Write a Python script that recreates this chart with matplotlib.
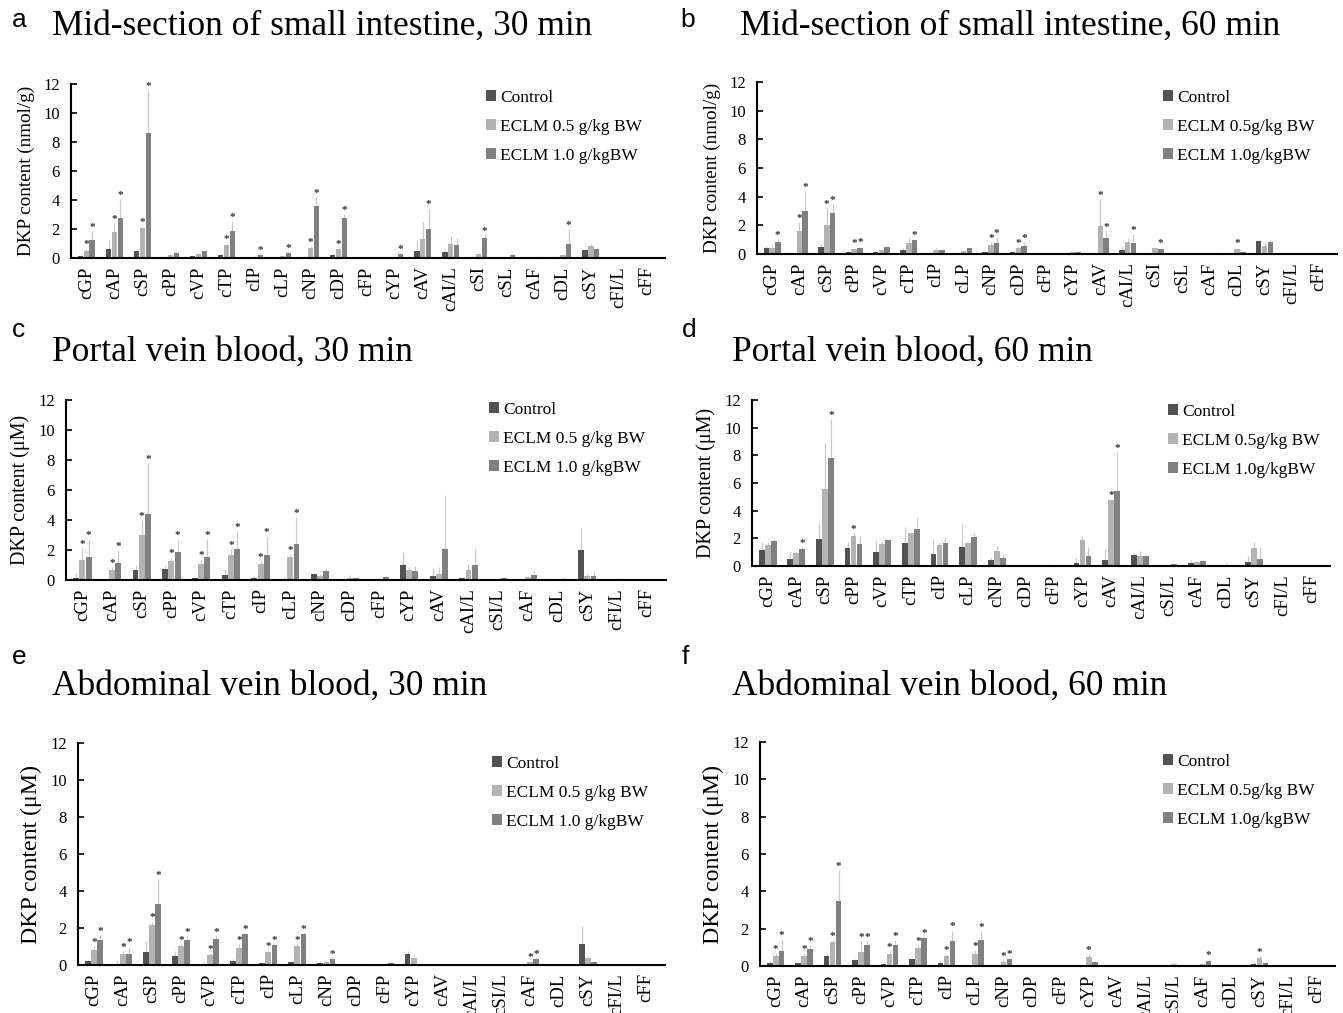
import matplotlib
matplotlib.use("Agg")
import matplotlib.pyplot as plt
import numpy as np

# ---------------- data ----------------
cats_ab = ["cGP", "cAP", "cSP", "cPP", "cVP", "cTP", "cIP", "cLP", "cNP", "cDP", "cFP",
           "cYP", "cAV", "cAI/L", "cSI", "cSL", "cAF", "cDL", "cSY", "cFI/L", "cFF"]
cats_cf = ["cGP", "cAP", "cSP", "cPP", "cVP", "cTP", "cIP", "cLP", "cNP", "cDP", "cFP",
           "cYP", "cAV", "cAI/L", "cSI/L", "cAF", "cDL", "cSY", "cFI/L", "cFF"]

# Panel a: Mid-section of small intestine, 30 min
a_ctrl = [0.15, 0.65, 0.45, 0.08, 0.12, 0.2, 0.05, 0.05, 0.1, 0.2, 0.02, 0.02, 0.5, 0.4, 0.08, 0.0, 0.03, 0.08, 0.55, 0, 0]
a_ctrl_err = [0.05, 0.6, 0.2, 0.03, 0.05, 0.1, 0.02, 0.02, 0.05, 0.1, 0.01, 0.01, 0.75, 0.2, 0.03, 0, 0.01, 0.05, 0.1, 0, 0]
a_e05 = [0.5, 1.8, 2.05, 0.22, 0.3, 0.9, 0.08, 0.12, 0.7, 0.6, 0.02, 0.08, 1.3, 0.95, 0.28, 0.03, 0.05, 0.22, 0.8, 0, 0]
a_e05_err = [0.15, 0.6, 0.15, 0.05, 0.05, 0.1, 0.03, 0.05, 0.1, 0.1, 0.01, 0.03, 1.2, 0.55, 0.05, 0.05, 0.02, 0.05, 0.2, 0, 0]
a_e10 = [1.25, 2.75, 8.6, 0.35, 0.45, 1.85, 0.18, 0.35, 3.6, 2.75, 0.06, 0.28, 2.0, 0.9, 1.4, 0.2, 0.1, 1.0, 0.65, 0, 0]
a_e10_err = [0.6, 1.3, 3.0, 0.05, 0.05, 0.7, 0.05, 0.05, 0.6, 0.3, 0.02, 0.05, 1.4, 0.45, 0.2, 0.05, 0.02, 1.0, 0.1, 0, 0]
a_sig05 = [1, 1, 1, 0, 0, 1, 0, 0, 1, 1, 0, 0, 0, 0, 0, 0, 0, 0, 0, 0, 0]
a_sig10 = [1, 1, 1, 0, 0, 1, 1, 1, 1, 1, 0, 1, 1, 0, 1, 0, 0, 1, 0, 0, 0]

# Panel b: Mid-section of small intestine, 60 min
b_ctrl = [0.4, 0, 0.5, 0.15, 0.12, 0.28, 0.08, 0, 0.12, 0.15, 0, 0.1, 0, 0.25, 0.1, 0, 0, 0.05, 0.9, 0, 0]
b_ctrl_err = [0.15, 0, 0.2, 0.05, 0.03, 0.15, 0.03, 0, 0.03, 0.05, 0, 0.02, 0, 0.3, 0.03, 0, 0, 0.02, 0.05, 0, 0]
b_e05 = [0.45, 1.6, 2.0, 0.35, 0.25, 0.75, 0.3, 0.2, 0.65, 0.4, 0.05, 0.12, 1.95, 0.85, 0.4, 0, 0.07, 0.35, 0.55, 0, 0]
b_e05_err = [0.2, 0.6, 1.2, 0.1, 0.05, 0.4, 0.1, 0.03, 0.2, 0.1, 0.01, 0.03, 1.9, 0.3, 0.05, 0, 0.02, 0.1, 0.3, 0, 0]
b_e10 = [0.85, 3.0, 2.85, 0.42, 0.5, 0.95, 0.28, 0.4, 0.8, 0.55, 0.05, 0.15, 1.1, 0.8, 0.35, 0.02, 0.1, 0.12, 0.85, 0, 0]
b_e10_err = [0.2, 1.4, 0.65, 0.1, 0.03, 0.1, 0.05, 0.03, 0.4, 0.3, 0.01, 0.03, 0.5, 0.6, 0.1, 0, 0.02, 0.05, 0.15, 0, 0]
b_sig05 = [0, 1, 1, 1, 0, 0, 0, 0, 1, 1, 0, 0, 1, 0, 0, 0, 0, 1, 0, 0, 0]
b_sig10 = [1, 1, 1, 1, 0, 1, 0, 0, 1, 1, 0, 0, 1, 1, 1, 0, 0, 0, 0, 0, 0]

# Panel c: Portal vein blood, 30 min
c_ctrl = [0.15, 0.02, 0.7, 0.75, 0.15, 0.35, 0.15, 0.1, 0.4, 0.02, 0.02, 1.0, 0.25, 0.15, 0, 0.02, 0.05, 2.0, 0.02, 0]
c_ctrl_err = [0.3, 0.02, 0.3, 0.2, 0.05, 0.4, 0.15, 0.1, 0.1, 0.02, 0.02, 0.9, 0.55, 0.05, 0, 0.02, 0.1, 1.45, 0.02, 0]
c_e05 = [1.35, 0.7, 3.0, 1.3, 1.1, 1.65, 1.1, 1.55, 0.3, 0.12, 0.08, 0.65, 0.4, 0.65, 0.05, 0.2, 0.05, 0.3, 0.1, 0]
c_e05_err = [0.8, 0.15, 1.0, 0.2, 0.3, 0.4, 0.15, 0.2, 0.1, 0.2, 0.05, 0.25, 0.5, 0.45, 0.03, 0.05, 0.05, 0.1, 0.05, 0]
c_e10 = [1.55, 1.15, 4.4, 1.9, 1.55, 2.05, 1.7, 2.4, 0.6, 0.12, 0.18, 0.6, 2.05, 1.0, 0.15, 0.35, 0.1, 0.3, 0.08, 0]
c_e10_err = [1.2, 0.85, 3.4, 0.8, 1.2, 1.2, 1.2, 1.8, 0.2, 0.05, 0.1, 0.35, 3.6, 1.05, 0.05, 0.3, 0.1, 0.3, 0.03, 0]
c_sig05 = [1, 1, 1, 1, 1, 1, 1, 1, 0, 0, 0, 0, 0, 0, 0, 0, 0, 0, 0, 0]
c_sig10 = [1, 1, 1, 1, 1, 1, 1, 1, 0, 0, 0, 0, 0, 0, 0, 0, 0, 0, 0, 0]

# Panel d: Portal vein blood, 60 min
d_ctrl = [1.15, 0.5, 1.95, 1.3, 1.0, 1.65, 0.9, 1.4, 0.4, 0.05, 0.1, 0.2, 0.45, 0.8, 0.02, 0.2, 0.05, 0.3, 0.02, 0]
d_ctrl_err = [0.6, 0.5, 1.2, 0.4, 0.8, 1.2, 1.05, 1.6, 0.15, 0.02, 0.03, 0.35, 0.8, 0.15, 0.01, 0.2, 0.02, 0.4, 0.01, 0]
d_e05 = [1.55, 0.95, 5.6, 2.2, 1.6, 2.35, 1.5, 1.65, 1.05, 0.05, 0.08, 1.9, 4.8, 0.7, 0.08, 0.3, 0.1, 1.3, 0.02, 0]
d_e05_err = [0.2, 0.05, 3.3, 0.15, 0.2, 0.05, 0.2, 0.1, 0.4, 0.02, 0.02, 0.3, 0.05, 0.35, 0.02, 0.03, 0.1, 0.4, 0.01, 0]
d_e10 = [1.8, 1.2, 7.8, 1.6, 1.85, 2.7, 1.65, 2.1, 0.55, 0.05, 0.05, 0.7, 5.45, 0.7, 0.12, 0.38, 0.08, 0.5, 0.05, 0]
d_e10_err = [0.15, 0.15, 2.8, 0.6, 0.05, 0.8, 0.4, 0.3, 0.25, 0.02, 0.02, 0.65, 2.8, 0.1, 0.03, 0.03, 0.02, 0.9, 0.01, 0]
d_sig05 = [0, 0, 0, 1, 0, 0, 0, 0, 0, 0, 0, 0, 1, 0, 0, 0, 0, 0, 0, 0]
d_sig10 = [0, 1, 1, 0, 0, 0, 0, 0, 0, 0, 0, 0, 1, 0, 0, 0, 0, 0, 0, 0]

# Panel e: Abdominal vein blood, 30 min
e_ctrl = [0.2, 0.08, 0.7, 0.5, 0.05, 0.2, 0.1, 0.15, 0.1, 0.02, 0.01, 0.6, 0, 0, 0.02, 0, 0.02, 1.15, 0.02, 0]
e_ctrl_err = [0.15, 0.2, 0.6, 0.25, 0.1, 0.15, 0.05, 0.05, 0.1, 0.02, 0.01, 0.15, 0, 0, 0.01, 0, 0.01, 0.95, 0.01, 0]
e_e05 = [0.8, 0.6, 2.15, 1.05, 0.55, 0.9, 0.7, 1.05, 0.15, 0.03, 0.08, 0.4, 0, 0, 0.02, 0.15, 0.05, 0.4, 0.03, 0]
e_e05_err = [0.25, 0.15, 0.2, 0.1, 0.1, 0.25, 0.1, 0.1, 0.1, 0.02, 0.02, 0.1, 0, 0, 0.01, 0.05, 0.02, 0.1, 0.01, 0]
e_e10 = [1.35, 0.6, 3.3, 1.35, 1.4, 1.65, 1.1, 1.7, 0.3, 0.05, 0.1, 0.08, 0, 0, 0.02, 0.3, 0.05, 0.15, 0.03, 0]
e_e10_err = [0.25, 0.4, 1.35, 0.2, 0.15, 0.1, 0.05, 0.05, 0.05, 0.05, 0.02, 0.02, 0, 0, 0.01, 0.1, 0.02, 0.05, 0.01, 0]
e_sig05 = [1, 1, 1, 1, 1, 1, 1, 1, 0, 0, 0, 0, 0, 0, 0, 1, 0, 0, 0, 0]
e_sig10 = [1, 1, 1, 1, 1, 1, 1, 1, 1, 0, 0, 0, 0, 0, 0, 1, 0, 0, 0, 0]

# Panel f: Abdominal vein blood, 60 min
f_ctrl = [0.15, 0.15, 0.55, 0.3, 0.1, 0.35, 0.15, 0.03, 0.05, 0.02, 0.01, 0.05, 0, 0, 0.02, 0.02, 0.02, 0.12, 0.02, 0]
f_ctrl_err = [0.1, 0.05, 0.15, 0.05, 0.03, 0.1, 0.15, 0.02, 0.03, 0.01, 0.01, 0.03, 0, 0, 0.01, 0.01, 0.01, 0.1, 0.01, 0]
f_e05 = [0.55, 0.55, 1.3, 0.75, 0.65, 0.95, 0.55, 0.65, 0.2, 0.03, 0.02, 0.5, 0, 0, 0.1, 0.1, 0.05, 0.45, 0.04, 0]
f_e05_err = [0.15, 0.15, 0.1, 0.6, 0.15, 0.15, 0.1, 0.2, 0.1, 0.01, 0.01, 0.15, 0, 0, 0.05, 0.03, 0.02, 0.1, 0.01, 0]
f_e10 = [0.8, 0.9, 3.5, 1.1, 1.15, 1.5, 1.35, 1.4, 0.35, 0.03, 0.02, 0.2, 0, 0, 0.08, 0.28, 0.05, 0.15, 0.02, 0]
f_e10_err = [0.65, 0.2, 1.65, 0.25, 0.25, 0.05, 0.55, 0.45, 0.1, 0.01, 0.01, 0.03, 0, 0, 0.02, 0.1, 0.02, 0.1, 0.01, 0]
f_sig05 = [1, 1, 1, 1, 1, 1, 1, 1, 1, 0, 0, 1, 0, 0, 0, 0, 0, 1, 0, 0]
f_sig10 = [1, 1, 1, 1, 1, 1, 1, 1, 1, 0, 0, 0, 0, 0, 0, 1, 0, 0, 0, 0]

titles = ["Mid-section of small intestine, 30 min", "Mid-section of small intestine, 60 min",
          "Portal vein blood, 30 min", "Portal vein blood, 60 min",
          "Abdominal vein blood, 30 min", "Abdominal vein blood, 60 min"]
letters = ["a", "b", "c", "d", "e", "f"]
ylabels = ["DKP content (nmol/g)", "DKP content (nmol/g)", "DKP content (\u03bcM)",
           "DKP content (\u03bcM)", "DKP content (\u03bcM)", "DKP content (\u03bcM)"]
legend_left = ["Control", "ECLM 0.5 g/kg BW", "ECLM 1.0 g/kgBW"]
legend_right = ["Control", "ECLM 0.5g/kg BW", "ECLM 1.0g/kgBW"]

# ---------------- style / layout ----------------
W, H = 1343, 1013
SERIF = ["Liberation Serif", "DejaVu Serif"]
SANS = ["Liberation Sans", "DejaVu Sans"]
plt.rcParams["font.family"] = SERIF
plt.rcParams["mathtext.fontset"] = "stix"

COL = ["#525252", "#b3b3b3", "#808080"]
ERRC = "#c8c8c8"

fig = plt.figure(figsize=(W / 100, H / 100), dpi=100)

def fx(px):
    return px / W

def fy(py):
    return 1 - py / H

# axes rectangles in pixels: x0, x1, ytop(12), ybot(0)
rects = [(71, 665, 84, 258), (757, 1337, 82, 254),
         (66, 666, 400, 580), (752, 1330, 400, 566),
         (78, 665, 743, 965), (760, 1335, 742, 966)]
# title/letter positions (pixels): letter x, letter y, title x, title y
title_pos = [(12, 20, 52, 26), (680, 20, 740, 26),
             (12, 330, 52, 352), (682, 330, 732, 352),
             (12, 657, 52, 686), (682, 657, 732, 686)]
# legend upper-left (pixels)
leg_pos = [(486, 90), (1163, 90), (489, 402), (1168, 404), (492, 756), (1163, 754)]
ylabel_size = [13.8, 13.8, 14.5, 14.5, 17.2, 17.2]

panels = [
    (cats_ab, a_ctrl, a_ctrl_err, a_e05, a_e05_err, a_e10, a_e10_err, a_sig05, a_sig10),
    (cats_ab, b_ctrl, b_ctrl_err, b_e05, b_e05_err, b_e10, b_e10_err, b_sig05, b_sig10),
    (cats_cf, c_ctrl, c_ctrl_err, c_e05, c_e05_err, c_e10, c_e10_err, c_sig05, c_sig10),
    (cats_cf, d_ctrl, d_ctrl_err, d_e05, d_e05_err, d_e10, d_e10_err, d_sig05, d_sig10),
    (cats_cf, e_ctrl, e_ctrl_err, e_e05, e_e05_err, e_e10, e_e10_err, e_sig05, e_sig10),
    (cats_cf, f_ctrl, f_ctrl_err, f_e05, f_e05_err, f_e10, f_e10_err, f_sig05, f_sig10),
]

bw = 0.2
offs = [-0.21, 0.0, 0.21]

for i, (cats, c, ce, m, me, h, he, s05, s10) in enumerate(panels):
    x0, x1, yt, yb = rects[i]
    ax = fig.add_axes([fx(x0), fy(yb), fx(x1) - fx(x0), (yb - yt) / H])
    x = np.arange(len(cats))
    series = [(c, ce, None), (m, me, s05), (h, he, s10)]
    leg = legend_left if i % 2 == 0 else legend_right
    handles = []
    for k, (vals, errs, sig) in enumerate(series):
        vals = np.asarray(vals, float)
        errs = np.asarray(errs, float)
        xs = x + offs[k]
        bars = ax.bar(xs, vals, width=bw, color=COL[k], edgecolor="none", zorder=2, label=leg[k])
        handles.append(bars)
        ax.vlines(xs, vals, vals + errs, colors=ERRC, lw=0.9, zorder=1)
        if sig is not None:
            for xx, v, e, s in zip(xs, vals, errs, sig):
                if s:
                    ax.text(xx, v + e - 0.05, "*", ha="center", va="bottom", fontsize=8,
                            color="#333333", fontweight="bold")
    ax.set_xlim(-0.55, len(cats) - 0.35)
    ax.set_ylim(0, 12)
    ax.set_yticks([0, 2, 4, 6, 8, 10, 12])
    ax.set_xticks(x)
    ax.set_xticklabels(cats, rotation=90, fontsize=13.5)
    ax.tick_params(axis="x", length=0, pad=6)
    ax.tick_params(axis="y", direction="in", length=4, width=1.2, labelsize=12, pad=8)
    for sp in ["top", "right"]:
        ax.spines[sp].set_visible(False)
    for sp in ["left", "bottom"]:
        ax.spines[sp].set_linewidth(1.5)
    ax.set_ylabel(ylabels[i], fontsize=ylabel_size[i], labelpad=6)

    lx, ly = leg_pos[i]
    ax.legend(handles=handles, loc="upper left", bbox_to_anchor=(fx(lx), fy(ly)),
              bbox_transform=fig.transFigure, frameon=False, fontsize=12.5,
              handlelength=0.6, handleheight=0.6, handletextpad=0.2,
              labelspacing=0.75, borderpad=0, borderaxespad=0)

    lxp, lyp, txp, typ = title_pos[i]
    fig.text(fx(lxp), fy(lyp), letters[i], family=SANS, fontsize=19, va="center", ha="left")
    fig.text(fx(txp), fy(typ), titles[i], fontsize=25.5, va="center", ha="left")

fig.savefig("out.png", dpi=100, facecolor="white")
